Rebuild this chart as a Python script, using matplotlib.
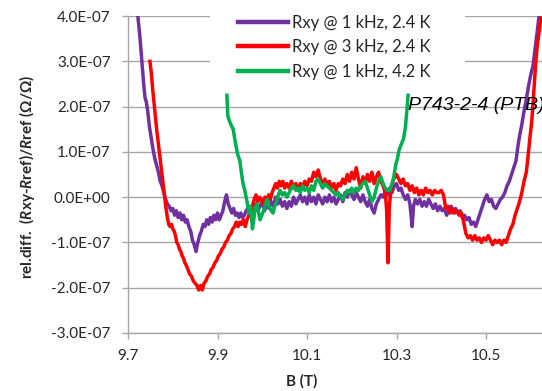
import matplotlib
matplotlib.use("Agg")
import matplotlib.pyplot as plt
from matplotlib.patches import Rectangle
from matplotlib.ticker import FixedLocator, FixedFormatter

plt.rcParams['font.family'] = ['Lato', 'DejaVu Sans']
plt.rcParams['mathtext.fontset'] = 'custom'
plt.rcParams['mathtext.it'] = 'Lato:italic:bold'
plt.rcParams['mathtext.rm'] = 'Lato:bold'

# ---------------- data (B in T, rel. diff in units of 1e-7) ----------------
purple_B = [9.722, 9.727, 9.731, 9.735, 9.738, 9.741, 9.744, 9.748, 9.752, 9.756,
            9.760, 9.764, 9.768, 9.772, 9.776, 9.780, 9.784, 9.788, 9.792, 9.796,
            9.800, 9.804, 9.808, 9.812, 9.816, 9.820, 9.824, 9.828, 9.832, 9.836,
            9.840, 9.844, 9.848, 9.852, 9.856, 9.860, 9.864, 9.868, 9.872, 9.876,
            9.880, 9.884, 9.888, 9.892, 9.896, 9.900, 9.904, 9.908, 9.912, 9.916,
            9.920, 9.924, 9.928, 9.932, 9.936, 9.940, 9.944, 9.948, 9.952, 9.956,
            9.960, 9.964, 9.968, 9.972, 9.976, 9.980, 9.985, 9.990, 9.995, 10.000,
            10.005, 10.010, 10.015, 10.020, 10.025, 10.030, 10.035, 10.040, 10.045, 10.050,
            10.055, 10.060, 10.065, 10.070, 10.075, 10.080, 10.085, 10.090, 10.095, 10.100,
            10.105, 10.110, 10.115, 10.120, 10.125, 10.130, 10.135, 10.140, 10.145, 10.150,
            10.155, 10.160, 10.165, 10.170, 10.175, 10.180, 10.185, 10.190, 10.195, 10.200,
            10.205, 10.210, 10.215, 10.220, 10.225, 10.230, 10.235, 10.240, 10.245, 10.250,
            10.255, 10.260, 10.265, 10.270, 10.275, 10.280, 10.285, 10.290, 10.295, 10.300,
            10.305, 10.310, 10.315, 10.320, 10.325, 10.330, 10.335, 10.338, 10.342, 10.347,
            10.352, 10.357, 10.362, 10.367, 10.372, 10.377, 10.382, 10.387, 10.392, 10.397,
            10.402, 10.407, 10.412, 10.417, 10.422, 10.427, 10.432, 10.437, 10.442, 10.447,
            10.452, 10.457, 10.462, 10.467, 10.472, 10.477, 10.482, 10.487, 10.492, 10.497,
            10.502, 10.507, 10.512, 10.517, 10.522, 10.527, 10.532, 10.537, 10.542, 10.547,
            10.552, 10.557, 10.562, 10.567, 10.571, 10.575, 10.580, 10.585, 10.590, 10.595,
            10.600, 10.605, 10.610, 10.615, 10.619]
purple_val = [4.00, 3.50, 3.00, 2.50, 2.20, 2.10, 1.90, 1.55, 1.30, 1.05,
              0.85, 0.70, 0.55, 0.35, 0.25, 0.10, -0.05, -0.15, -0.20, -0.30,
              -0.25, -0.40, -0.30, -0.45, -0.35, -0.50, -0.40, -0.55, -0.50, -0.65,
              -0.75, -0.95, -1.05, -1.20, -1.00, -0.85, -0.75, -0.60, -0.65, -0.50,
              -0.60, -0.45, -0.55, -0.40, -0.50, -0.35, -0.50, -0.40, -0.30, -0.10,
              0.05, -0.15, -0.25, -0.35, -0.25, -0.40, -0.35, -0.45, -0.35, -0.45,
              -0.40, -0.30, -0.25, -0.35, -0.20, -0.25, -0.15, -0.30, -0.20, -0.10,
              -0.30, -0.15, -0.25, -0.10, -0.20, 0.00, -0.15, -0.05, -0.20, -0.10,
              -0.25, -0.10, -0.20, 0.00, -0.15, -0.05, 0.05, -0.10, 0.00, -0.15,
              0.05, -0.10, 0.00, -0.15, 0.05, -0.05, -0.15, 0.00, -0.10, 0.05,
              -0.10, 0.00, -0.15, -0.05, 0.05, -0.10, 0.10, 0.00, 0.15, 0.05,
              -0.05, 0.10, 0.00, -0.10, 0.05, -0.10, -0.20, -0.05, -0.25, -0.35,
              -0.15, -0.05, 0.05, 0.00, 0.15, 0.05, 0.20, 0.10, 0.25, 0.30,
              0.15, 0.20, 0.05, -0.05, 0.05, -0.15, -0.65, -0.20, -0.05, -0.15,
              -0.05, -0.20, -0.10, -0.20, -0.05, -0.15, -0.25, -0.15, -0.30, -0.20,
              -0.30, -0.25, -0.40, -0.30, -0.20, -0.35, -0.25, -0.35, -0.30, -0.45,
              -0.40, -0.50, -0.45, -0.60, -0.55, -0.65, -0.50, -0.35, -0.20, -0.05,
              0.05, -0.10, -0.05, -0.20, -0.25, -0.15, -0.05, 0.00, 0.10, 0.25,
              0.35, 0.50, 0.65, 0.80, 1.10, 1.35, 1.60, 1.90, 2.15, 2.45,
              2.70, 2.90, 3.30, 3.70, 4.05]

red_B = [9.749, 9.752, 9.755, 9.758, 9.761, 9.764, 9.767, 9.770, 9.773, 9.776,
         9.779, 9.782, 9.785, 9.788, 9.791, 9.794, 9.797, 9.800, 9.803, 9.806,
         9.809, 9.812, 9.815, 9.818, 9.821, 9.824, 9.827, 9.830, 9.834, 9.838,
         9.842, 9.846, 9.850, 9.854, 9.858, 9.862, 9.866, 9.870, 9.874, 9.878,
         9.882, 9.886, 9.890, 9.894, 9.898, 9.902, 9.906, 9.910, 9.914, 9.918,
         9.922, 9.926, 9.930, 9.934, 9.938, 9.942, 9.946, 9.950, 9.954, 9.958,
         9.962, 9.966, 9.970, 9.974, 9.978, 9.982, 9.986, 9.990, 9.994, 9.998,
         10.002, 10.006, 10.010, 10.014, 10.018, 10.022, 10.026, 10.030, 10.034, 10.038,
         10.042, 10.046, 10.050, 10.055, 10.060, 10.065, 10.070, 10.075, 10.080, 10.085,
         10.090, 10.095, 10.100, 10.105, 10.110, 10.115, 10.120, 10.125, 10.130, 10.135,
         10.140, 10.145, 10.150, 10.155, 10.160, 10.165, 10.170, 10.175, 10.180, 10.185,
         10.190, 10.195, 10.200, 10.205, 10.210, 10.215, 10.220, 10.225, 10.230, 10.235,
         10.240, 10.245, 10.250, 10.255, 10.260, 10.265, 10.270, 10.275, 10.278, 10.281,
         10.284, 10.288, 10.292, 10.296, 10.300, 10.305, 10.310, 10.315, 10.320, 10.325,
         10.330, 10.335, 10.340, 10.345, 10.350, 10.355, 10.360, 10.365, 10.370, 10.375,
         10.380, 10.385, 10.390, 10.395, 10.400, 10.405, 10.410, 10.415, 10.420, 10.425,
         10.430, 10.435, 10.440, 10.445, 10.450, 10.455, 10.460, 10.465, 10.470, 10.475,
         10.480, 10.485, 10.490, 10.495, 10.500, 10.505, 10.510, 10.515, 10.520, 10.525,
         10.530, 10.535, 10.540, 10.545, 10.550, 10.555, 10.560, 10.565, 10.570, 10.575,
         10.580, 10.585, 10.590, 10.594, 10.598, 10.602, 10.606, 10.610, 10.614, 10.618,
         10.622, 10.626]
red_val = [3.00, 2.75, 2.40, 2.10, 1.80, 1.50, 1.25, 1.00, 0.75, 0.50,
           0.25, 0.00, -0.25, -0.45, -0.60, -0.65, -0.60, -0.70, -0.75, -0.85,
           -1.00, -1.05, -1.15, -1.20, -1.30, -1.35, -1.45, -1.50, -1.60, -1.70,
           -1.75, -1.85, -1.90, -1.95, -2.05, -1.95, -2.05, -1.90, -1.85, -1.75,
           -1.70, -1.60, -1.55, -1.45, -1.40, -1.30, -1.25, -1.15, -1.10, -1.00,
           -0.95, -0.85, -0.80, -0.70, -0.65, -0.55, -0.65, -0.55, -0.60, -0.50,
           -0.65, -0.50, -0.40, -0.35, -0.20, -0.05, 0.05, -0.10, 0.00, -0.05,
           -0.15, 0.00, -0.10, 0.05, -0.05, 0.10, 0.20, 0.30, 0.20, 0.35,
           0.25, 0.35, 0.20, 0.30, 0.20, 0.35, 0.20, 0.30, 0.15, 0.30,
           0.20, 0.35, 0.25, 0.40, 0.35, 0.55, 0.45, 0.60, 0.40, 0.30,
           0.40, 0.25, 0.35, 0.20, 0.30, 0.15, 0.30, 0.25, 0.40, 0.30,
           0.50, 0.35, 0.55, 0.40, 0.65, 0.40, 0.20, 0.45, 0.30, 0.50,
           0.35, 0.55, 0.30, 0.45, 0.55, 0.35, 0.25, 0.10, -0.30, -1.45,
           -0.20, 0.20, 0.35, 0.45, 0.50, 0.40, 0.30, 0.40, 0.25, 0.30,
           0.15, 0.25, 0.10, 0.20, 0.05, 0.15, 0.05, 0.20, 0.10, 0.15,
           0.05, 0.15, 0.10, 0.10, 0.15, 0.05, -0.25, -0.20, -0.35, -0.25,
           -0.35, -0.30, -0.40, -0.35, -0.55, -0.80, -0.90, -0.85, -0.95, -0.85,
           -0.95, -0.90, -1.00, -0.90, -0.95, -0.85, -0.95, -1.05, -0.95, -1.00,
           -0.95, -1.05, -0.95, -1.00, -0.85, -0.70, -0.60, -0.40, -0.25, -0.10,
           0.10, 0.35, 0.55, 0.90, 1.30, 1.65, 2.20, 2.80, 3.30, 3.60,
           3.90, 4.05]

green_B = [9.921, 9.923, 9.926, 9.930, 9.935, 9.940, 9.945, 9.950, 9.954, 9.957,
           9.961, 9.966, 9.970, 9.974, 9.978, 9.981, 9.984, 9.988, 9.991, 9.995,
           9.999, 10.003, 10.007, 10.011, 10.015, 10.020, 10.024, 10.028, 10.032, 10.036,
           10.040, 10.045, 10.050, 10.055, 10.060, 10.065, 10.070, 10.075, 10.080, 10.085,
           10.090, 10.095, 10.100, 10.105, 10.110, 10.115, 10.120, 10.125, 10.130, 10.135,
           10.140, 10.145, 10.150, 10.155, 10.160, 10.165, 10.170, 10.175, 10.180, 10.185,
           10.190, 10.195, 10.200, 10.205, 10.210, 10.215, 10.220, 10.225, 10.230, 10.235,
           10.240, 10.245, 10.250, 10.255, 10.260, 10.265, 10.270, 10.275, 10.280, 10.285,
           10.290, 10.294, 10.298, 10.302, 10.306, 10.310, 10.316, 10.320, 10.323, 10.326]
green_val = [2.25, 1.80, 1.70, 1.60, 1.50, 1.20, 0.95, 0.80, 0.50, 0.30,
             0.15, -0.10, -0.35, -0.20, -0.70, -0.50, -0.25, -0.15, -0.30, -0.50,
             -0.40, -0.30, -0.15, -0.05, -0.20, -0.30, -0.35, -0.20, -0.10, 0.05,
             0.15, 0.05, 0.10, 0.00, 0.10, 0.20, 0.25, 0.15, 0.20, 0.10,
             0.25, 0.15, 0.20, 0.10, 0.25, 0.15, 0.35, 0.40, 0.30, 0.20,
             0.30, 0.25, 0.20, 0.15, 0.10, 0.05, 0.10, 0.00, -0.05, 0.05,
             0.15, 0.10, 0.20, 0.10, 0.20, 0.15, 0.25, 0.30, 0.35, 0.20,
             0.05, -0.10, 0.00, 0.20, 0.35, 0.45, 0.30, 0.20, 0.15, 0.15,
             0.30, 0.45, 0.70, 0.85, 1.05, 1.15, 1.30, 1.55, 1.90, 2.25]

series_labels = ["Rxy @ 1 kHz, 2.4 K", "Rxy @ 3 kHz, 2.4 K", "Rxy @ 1 kHz, 4.2 K"]
series_colors = ["#7030A0", "#FF0000", "#00B050"]

x_ticks = [9.7, 9.9, 10.1, 10.3, 10.5]
x_tick_labels = ["9.7", "9.9", "10.1", "10.3", "10.5"]
y_ticks = [-3e-7, -2e-7, -1e-7, 0.0, 1e-7, 2e-7, 3e-7, 4e-7]
y_tick_labels = ["-3.0E-07", "-2.0E-07", "-1.0E-07", "0.0E+00",
                 "1.0E-07", "2.0E-07", "3.0E-07", "4.0E-07"]
sample_note = "P743-2-4 (PTB)"

# ---------------- figure ----------------
W, H = 542, 391
fig = plt.figure(figsize=(W / 100, H / 100), dpi=100)
ax_left, ax_right = 128, 575.5
ax_top, ax_bottom = 16, 333
ax = fig.add_axes([ax_left / W, 1 - ax_bottom / H,
                   (ax_right - ax_left) / W, (ax_bottom - ax_top) / H])

grid_c = "#A6A6A6"
ax.set_xlim(9.7, 10.7)
ax.set_ylim(-3e-7, 4e-7)
ax.yaxis.set_major_locator(FixedLocator(y_ticks))
ax.yaxis.set_major_formatter(FixedFormatter(y_tick_labels))
ax.xaxis.set_major_locator(FixedLocator(x_ticks))
ax.xaxis.set_major_formatter(FixedFormatter(x_tick_labels))
ax.grid(axis='y', color=grid_c, lw=1.0, zorder=0)
ax.set_axisbelow(True)
for s in ['top', 'right']:
    ax.spines[s].set_visible(False)
for s in ['left', 'bottom']:
    ax.spines[s].set_color(grid_c)
    ax.spines[s].set_linewidth(1.0)
ax.tick_params(axis='both', direction='out', length=4.5, width=1.0, color=grid_c,
               labelsize=11, labelcolor='#262626')
ax.tick_params(axis='y', pad=8)
ax.tick_params(axis='x', pad=7)

# white legend background covering gridlines
ax.add_patch(Rectangle((210 / W, 1 - 90 / H), (465 - 210) / W, 90 / H,
                       transform=fig.transFigure, facecolor='white',
                       edgecolor='none', zorder=1, clip_on=False))

handles = []
for xs, vs, lab, col in zip([purple_B, red_B, green_B],
                            [purple_val, red_val, green_val],
                            series_labels, series_colors):
    h, = ax.plot(xs, [v * 1e-7 for v in vs], color=col, lw=2.5, label=lab,
                 zorder=2, solid_joinstyle='round')
    handles.append(h)

fs_leg = 12
leg = fig.legend(handles=handles, loc='upper left',
                 bbox_to_anchor=(238 / W, 1 - 15 / H), bbox_transform=fig.transFigure,
                 frameon=False, fontsize=fs_leg, handlelength=3.0, handletextpad=0.25,
                 labelspacing=0.5, borderpad=0, borderaxespad=0)
for t in leg.get_texts():
    t.set_color('#262626')
for l in leg.get_lines():
    l.set_linewidth(3.2)

fig.text(408 / W, 1 - 105 / H, sample_note, ha='left', va='center',
         fontsize=14, style='italic', family=['Liberation Sans', 'DejaVu Sans'],
         color='black')

fig.text(302 / W, 1 - 381 / H, "B (T)", ha='center', va='center',
         fontsize=11, fontweight='bold', color='#262626')
fig.text(27 / W, 1 - 177 / H,
         r"rel.diff.  ($\mathit{R}$xy-$\mathit{R}$ref)/$\mathit{R}$ref (Ω/Ω)",
         ha='center', va='center', rotation=90, fontsize=11, fontweight='bold',
         color='#262626')

fig.savefig("out.png", dpi=100)
